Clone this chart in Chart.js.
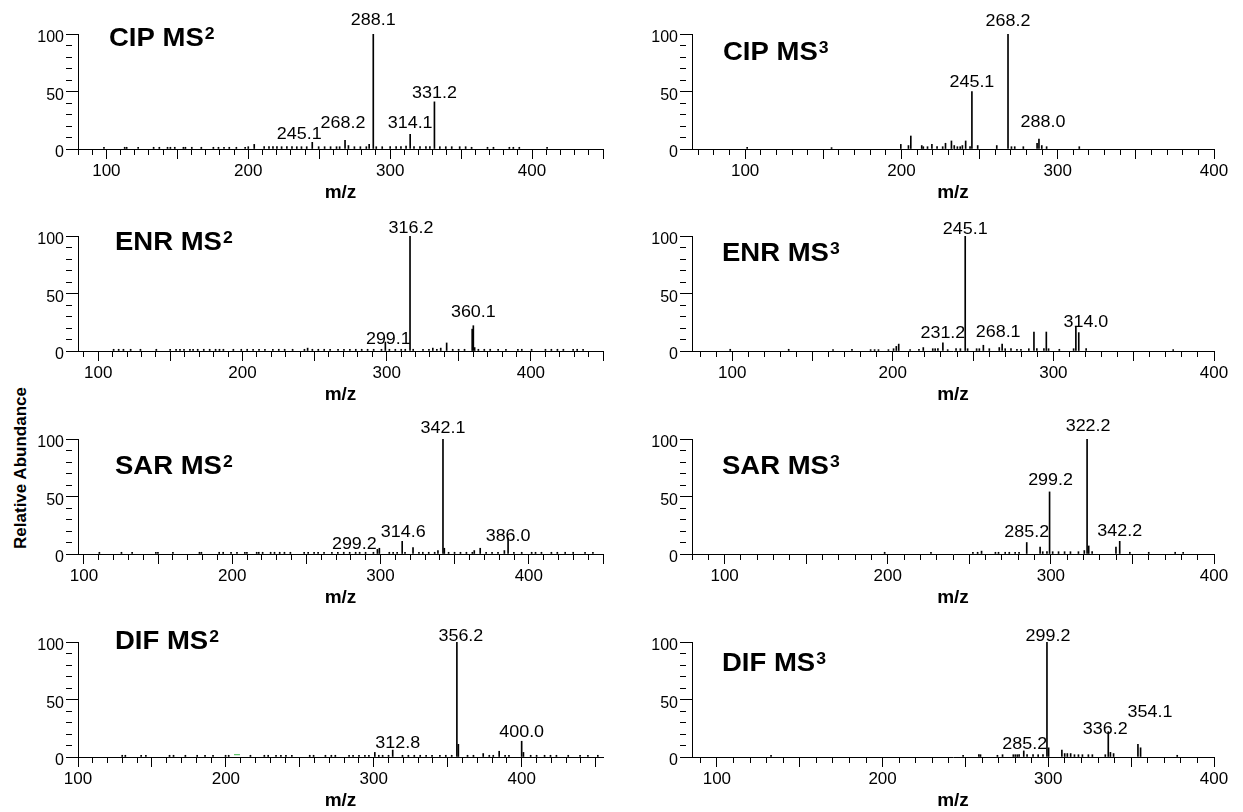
<!DOCTYPE html>
<html lang="en">
<head>
<meta charset="UTF-8">
<title>MS2 / MS3 spectra</title>
<script src="https://cdn.jsdelivr.net/npm/chart.js"></script>
<style>
  html, body { margin: 0; padding: 0; background: #fff; overflow: hidden; }
  body { width: 1243px; height: 812px; position: relative; font-family: "Liberation Sans", Arial, sans-serif; }
  canvas { position: absolute; }
  #ylab {
    position: absolute; left: 21px; top: 468px;
    transform: translate(-50%, -50%) rotate(-90deg);
    font-weight: bold; font-size: 17px; white-space: nowrap; color: #000;
  }
</style>
</head>
<body>
<div id="ylab">Relative Abundance</div>
<script>
// spectra: [m/z, relative abundance]
const cipMs2 = [[98.3,1.5],[112.9,1.5],[114.3,1.5],[122.4,1.5],[133.3,1.5],[137.3,1.5],[143.1,1.5],[145.1,1.5],[148.2,1.5],[154.3,1.5],[155.7,1.5],[160.2,1.5],[166.9,1.5],[175.4,1.5],[179.0,1.5],[182.9,1.5],[186.6,1.5],[191.6,1.5],[197.8,1.5],[200.0,2],[204.2,4],[211.2,2],[214.6,2],[217.4,2],[220.2,2],[223.5,2],[227.2,2],[230.8,2],[234.2,2],[237.5,2],[241.2,2],[245.1,5.8],[249.6,2],[253.8,2],[258.0,2],[262.2,2],[264.4,2],[268.2,7.5],[270.6,3],[274.8,2],[279.0,2],[283.2,2],[285.2,4],[288.1,100],[290.2,2],[294.4,2],[300.0,2],[304.2,2],[307.6,2],[311.2,2.5],[314.1,12.8],[316.8,2],[321.0,2],[325.2,2],[328.0,2],[331.2,41],[335.0,2],[339.2,2],[343.4,2],[349.0,2],[353.2,2],[357.4,1.5],[368.6,1.5],[372.8,1.5],[384.0,1.5],[386.8,1.5],[391.0,1.5],[410.6,1.5]];
const cipMs2Peaks = [245.1, 268.2, 288.1, 314.1, 331.2];

const cipMs3 = [[101.3,1.5],[155.3,1.2],[199.6,4],[204.5,3],[206.0,11.3],[213.0,3],[214.0,2],[216.7,2],[219.5,4],[222.8,2],[226.4,2],[228.2,5],[232.0,7],[233.8,3],[235.8,2],[237.6,2],[239.0,3],[241.1,7],[243.9,2],[245.1,50],[248.8,3],[261.0,3],[268.2,100],[270.4,2],[272.5,2],[278.0,2],[286.8,5],[288.0,8.7],[289.8,3],[292.9,2],[313.8,2]];
const cipMs3Peaks = [245.1, 268.2, 288.0];

const enrMs2 = [[110.7,1.5],[114.2,1.5],[117.5,1.5],[122.5,1.5],[129.3,1.5],[140.3,1.5],[149.9,1.5],[154.0,1.5],[156.7,1.5],[159.5,1.5],[163.6,1.5],[165.8,1.5],[169.0,1.5],[173.2,1.5],[177.3,1.5],[181.4,1.5],[184.1,1.5],[186.8,1.5],[193.7,1.5],[199.2,1.5],[203.3,1.5],[207.4,1.5],[211.5,1.5],[215.6,1.5],[221.1,1.5],[225.2,1.5],[229.3,1.5],[234.8,1.5],[243.0,1.5],[245.2,2.5],[248.5,1.5],[252.6,1.5],[256.7,1.5],[260.8,1.5],[266.3,1.5],[270.4,1.5],[274.5,1.5],[278.6,1.5],[282.7,1.5],[286.8,1.5],[291.0,1.5],[296.4,1.5],[299.1,7.8],[301.9,1.5],[306.0,1.5],[310.1,1.5],[312.9,1.5],[316.2,100],[318.4,1.5],[325.2,1.5],[329.3,1.5],[332.0,2.5],[334.8,1.5],[337.5,2.5],[341.6,7],[345.8,1.5],[349.9,1.5],[354.0,1.5],[359.3,19],[360.1,22],[361.0,3],[363.6,1.5],[367.7,1.5],[371.8,1.5],[377.3,1.5],[382.7,1.5],[391.0,1.5],[393.7,1.5],[400.5,1.5],[410.1,1.5],[414.2,1.5],[418.4,1.5],[422.5,1.5],[429.3,1.5],[432.1,1.5],[436.2,1.5]];
const enrMs2Peaks = [299.1, 316.2, 360.1];

const enrMs3 = [[98.8,1.5],[135.2,1.5],[162.8,1.2],[174.6,1.5],[186.2,1.2],[188.7,1.2],[191.1,1.2],[197.3,1.2],[200.5,2],[202.2,4],[203.7,6],[210.8,1.2],[216.3,1.5],[219.0,3],[224.9,2],[226.4,2],[228.1,2],[231.2,7],[234.2,1.2],[239.4,2],[242.1,2],[245.1,100],[246.6,2],[252.2,2],[253.9,2],[256.4,5],[260.1,2],[266.3,3],[268.1,6],[270.0,2],[273.6,2],[277.3,1.5],[279.8,1.5],[284.7,2],[287.9,16.5],[289.7,2],[294.1,2],[295.6,16.5],[297.0,2],[303.7,1.5],[312.6,2],[314.0,20.5],[315.8,16],[320.4,2],[374.6,1.2]];
const enrMs3Peaks = [231.2, 245.1, 268.1, 314.0];

const sarMs2 = [[110.4,1.5],[125.3,1.5],[132.5,1.5],[148.5,1.5],[149.9,1.5],[160.0,1.5],[177.9,1.5],[179.2,1.5],[191.2,1.5],[193.9,1.5],[199.2,1.5],[203.2,1.5],[208.5,1.5],[209.9,1.5],[216.5,1.5],[217.9,1.5],[220.5,1.5],[225.9,1.5],[228.5,1.5],[232.0,1.5],[235.2,1.5],[239.2,1.5],[248.5,1.5],[251.2,1.5],[255.2,1.5],[257.9,1.5],[261.9,1.5],[267.2,1.5],[271.2,1.5],[275.2,1.5],[279.2,1.5],[283.2,1.5],[285.9,1.5],[289.9,1.5],[295.2,1.5],[297.9,4],[299.2,5],[305.9,1.5],[308.5,1.5],[311.2,1.5],[314.6,11],[316.5,1.5],[321.9,5.5],[325.9,1.5],[328.5,1.5],[332.5,1.5],[336.5,1.5],[338.7,3],[342.1,100],[343.0,5],[345.9,1.5],[349.9,1.5],[353.9,1.5],[357.9,1.5],[361.9,1.5],[363.2,3],[367.2,5],[371.2,1.5],[375.2,1.5],[379.2,1.5],[383.5,3],[386.0,14],[389.9,1.5],[395.2,1.5],[401.9,1.5],[404.5,1.5],[408.5,1.5],[415.2,1.5],[419.2,1.5],[424.5,1.5],[429.9,1.5],[437.9,1.5],[443.2,1.5]];
const sarMs2Peaks = [299.2, 314.6, 342.1, 386.0];

const sarMs3 = [[198.1,1.5],[226.5,1.5],[252.2,1.5],[255.1,1.5],[257.5,2.5],[266.0,1.5],[267.9,1.5],[272.0,1.5],[274.5,1.5],[278.1,1.5],[280.5,1.5],[285.2,10],[293.4,6],[295.0,2],[297.6,2],[299.2,54],[301.1,2],[304.7,2],[308.4,2],[312.0,2],[316.9,2],[320.5,3],[322.2,100],[323.2,7],[325.3,2],[339.9,6],[342.2,11],[348.4,1.5],[360.0,1.5],[376.2,1.5],[381.1,1.5]];
const sarMs3Peaks = [285.2, 299.2, 322.2, 342.2];

const difMs2 = [[129.9,1.5],[132.0,1.5],[142.7,1.5],[145.9,1.5],[161.9,1.5],[164.6,1.5],[172.6,1.5],[180.6,1.5],[185.9,1.5],[191.3,1.5],[199.8,1.5],[201.9,1.5],[216.6,1.5],[226.0,1.5],[228.6,1.5],[233.9,1.5],[237.2,1.5],[240.6,1.5],[244.6,1.5],[256.7,1.5],[259.3,1.5],[267.3,1.5],[271.3,1.5],[274.0,1.5],[283.3,1.5],[286.0,1.5],[290.0,1.5],[294.0,1.5],[296.7,1.5],[300.7,4],[303.4,1.5],[306.0,1.5],[310.0,1.5],[312.8,6],[319.4,1.5],[323.4,1.5],[327.4,1.5],[331.4,1.5],[335.4,1.5],[339.4,1.5],[344.7,1.5],[348.7,1.5],[352.7,1.5],[356.2,100],[357.2,11],[363.4,1.5],[367.4,1.5],[374.0,3],[378.1,1.5],[380.8,1.5],[384.8,5],[388.8,1.5],[391.4,1.5],[400.0,13.7],[401.2,4],[406.1,1.5],[410.1,1.5],[415.5,1.5],[419.5,1.5],[423.5,1.5],[431.5,1.5],[439.5,1.5],[444.8,1.5],[451.5,1.5]];
const difMs2Peaks = [312.8, 356.2, 400.0];
const difMs2Stray = [[207.5, 2]];

const difMs3 = [[132.7,1.5],[248.6,1.5],[258.1,2],[259.1,2],[269.3,1.5],[272.4,2],[278.9,2],[280.1,2],[281.3,2],[282.4,2],[285.2,5.3],[287.2,2],[290.8,2],[293.9,2],[296.8,2],[299.2,100],[300.2,8],[308.2,6],[309.9,3],[311.5,3],[313.5,3],[315.8,2],[318.2,2],[320.6,2],[324.2,2],[326.6,2],[334.4,2],[336.2,22],[337.5,4],[339.4,3],[354.1,11],[355.7,8],[377.8,1.5]];
const difMs3Peaks = [285.2, 299.2, 336.2, 354.1];

const panelTitles = ['CIP MS', 'CIP MS', 'ENR MS', 'ENR MS', 'SAR MS', 'SAR MS', 'DIF MS', 'DIF MS'];
const panelStages = ['2', '3', '2', '3', '2', '3', '2', '3'];
const mzRanges = [[80, 450], [66, 400], [86, 450], [75, 400], [96, 450], [80, 400], [100, 455], [85, 400]];

// layout (pixels)
const COLS = [{ left: 78, right: 603 }, { left: 692, right: 1214 }];
const ROWS = [34, 236, 439, 642];
const PLOT_H = 115, AXIS_W = 60, AXIS_H = 55, PAD_TOP = 30, PAD_RIGHT = 20;
const FONT = '"Liberation Sans", Arial, sans-serif';

Chart.defaults.font.family = FONT;
Chart.defaults.color = '#000';

const panels = [
  { spec: cipMs2, peaks: cipMs2Peaks, nudge: [[-13, 3], [-2, 12], [0, 9], [0, 6], [0, 4]], titleAt: [31, 12] },
  { spec: cipMs3, peaks: cipMs3Peaks, nudge: [[0, 5], [0, 8], [4, 12]], titleAt: [31, 26] },
  { spec: enrMs2, peaks: enrMs2Peaks, nudge: [[3, -2], [1, 3], [0, 9]], titleAt: [37, 14] },
  { spec: enrMs3, peaks: enrMs3Peaks, nudge: [[0, 5], [0, 2], [-4, 7], [10, 0]], titleAt: [30, 25] },
  { spec: sarMs2, peaks: sarMs2Peaks, nudge: [[-25, -1], [1, 4], [0, 6], [0, -3]], titleAt: [37, 35] },
  { spec: sarMs3, peaks: sarMs3Peaks, nudge: [[0, 6], [1, 7], [1, 8], [0, 5]], titleAt: [30, 35] },
  { spec: difMs2, peaks: difMs2Peaks, nudge: [[5, 2], [4, 1], [0, 4]], titleAt: [37, 7], stray: difMs2Stray },
  { spec: difMs3, peaks: difMs3Peaks, nudge: [[1, 2], [1, 1], [-3, -2], [12, 27]], titleAt: [30, 29] }
];

function annotate(p, i) {
  return {
    id: 'annotate' + i,
    afterDatasetsDraw(chart) {
      const { ctx, chartArea, scales } = chart;
      ctx.save();
      ctx.fillStyle = '#000';
      ctx.textBaseline = 'alphabetic';
      // peak labels
      ctx.font = '16px ' + FONT;
      ctx.textAlign = 'center';
      p.peaks.forEach((mz, k) => {
        const hit = p.spec.find(d => d[0] === mz);
        const [dx, gap] = p.nudge[k];
        const px = scales.x.getPixelForValue(mz) + dx;
        const py = scales.y.getPixelForValue(hit[1]) - gap;
        ctx.save();
        ctx.translate(px, py);
        ctx.scale(1.12, 1);
        ctx.fillText(mz.toFixed(1), 0, 0);
        ctx.restore();
      });
      // panel title with superscript stage
      ctx.textAlign = 'left';
      ctx.save();
      ctx.translate(chartArea.left + p.titleAt[0], chartArea.top + p.titleAt[1]);
      ctx.scale(1.1, 1);
      ctx.font = 'bold 25px ' + FONT;
      ctx.fillText(panelTitles[i], 0, 0);
      const w = ctx.measureText(panelTitles[i]).width;
      ctx.font = 'bold 16px ' + FONT;
      ctx.fillText(panelStages[i], w + 1, -7);
      ctx.restore();
      ctx.restore();
    }
  };
}

panels.forEach((p, i) => {
  const col = COLS[i % 2];
  const top = ROWS[Math.floor(i / 2)];
  const canvas = document.createElement('canvas');
  const w = col.right - col.left + AXIS_W + PAD_RIGHT;
  const h = PAD_TOP + PLOT_H + AXIS_H;
  canvas.width = w; canvas.height = h;
  canvas.style.width = w + 'px'; canvas.style.height = h + 'px';
  canvas.style.left = (col.left - AXIS_W) + 'px';
  canvas.style.top = (top - PAD_TOP) + 'px';
  document.body.appendChild(canvas);

  const datasets = [{
    type: 'bar',
    data: p.spec.map(d => ({ x: d[0], y: d[1] })),
    backgroundColor: '#000',
    borderWidth: 0,
    barThickness: 1
  }];
  if (p.stray) {
    datasets.push({
      type: 'scatter',
      data: p.stray.map(d => ({ x: d[0], y: d[1] })),
      pointStyle: 'line', pointRadius: 3, borderColor: '#3cb44b', borderWidth: 1
    });
  }

  new Chart(canvas, {
    type: 'bar',
    data: { datasets },
    options: {
      responsive: false,
      animation: false,
      events: [],
      layout: { padding: { top: PAD_TOP, right: PAD_RIGHT, left: 0, bottom: 0 } },
      plugins: { legend: { display: false }, tooltip: { enabled: false } },
      scales: {
        x: {
          type: 'linear',
          min: mzRanges[i][0],
          max: mzRanges[i][1],
          offset: false,
          grid: {
            offset: false, drawOnChartArea: false, drawTicks: true,
            tickLength: 10, tickColor: '#000', color: '#000', tickWidth: 1,
            tickBorderDash: c => (c.tick && c.tick.value % 50 === 0) ? [] : [5, 40]
          },
          border: { display: true, color: '#000', width: 1 },
          ticks: {
            stepSize: 10, autoSkip: false, maxRotation: 0, includeBounds: false,
            padding: 2, color: '#000', font: { size: 17 },
            callback: v => (v % 100 === 0 ? v : '')
          },
          title: { display: true, text: 'm/z', color: '#000', font: { size: 19, weight: 'bold' }, padding: 0 },
          afterFit: s => { s.height = AXIS_H; }
        },
        y: {
          min: 0,
          max: 100,
          grid: {
            drawOnChartArea: false, drawTicks: true,
            tickLength: 12, tickColor: '#000', color: '#000', tickWidth: 1,
            tickBorderDash: c => (c.tick && c.tick.value % 50 === 0) ? [] : [6, 40]
          },
          border: { display: true, color: '#000', width: 1 },
          ticks: {
            stepSize: 10, autoSkip: false, padding: 2, labelOffset: 4,
            color: '#000', font: { size: 16 },
            callback: v => (v % 50 === 0 ? v : '')
          },
          afterFit: s => { s.width = AXIS_W; }
        }
      }
    },
    plugins: [annotate(p, i)]
  });
});
</script>
</body>
</html>
